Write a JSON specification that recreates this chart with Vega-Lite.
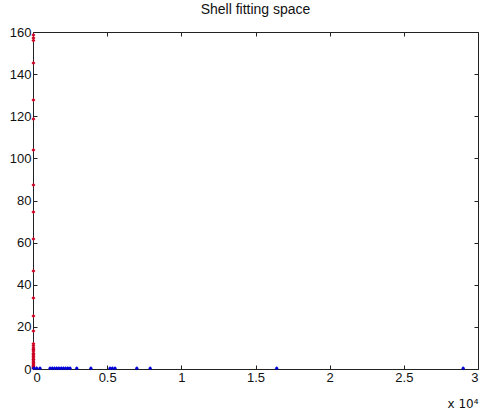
{
  "$schema": "https://vega.github.io/schema/vega-lite/v6.json",
  "width": 445,
  "height": 337,
  "autosize": {"type": "none"},
  "padding": {"left": 33, "top": 32, "right": 2, "bottom": 43},
  "background": "white",
  "title": {
    "text": "Shell fitting space",
    "font": "Liberation Sans",
    "fontSize": 14,
    "fontWeight": "normal",
    "color": "#111",
    "offset": 9
  },
  "config": {
    "view": {"stroke": "#222", "strokeWidth": 1},
    "axis": {
      "domain": false,
      "grid": false,
      "ticks": true,
      "tickColor": "#222",
      "tickSize": -4,
      "labelFont": "Liberation Sans",
      "labelFontSize": 13,
      "labelColor": "#111",
      "labelPadding": 6
    }
  },
  "datasets": {
    "pts": [
      {"x": 30, "y": 158.6, "series": "red"},
      {"x": 30, "y": 157.2, "series": "red"},
      {"x": 30, "y": 156.0, "series": "red"},
      {"x": 30, "y": 145.3, "series": "red"},
      {"x": 30, "y": 127.7, "series": "red"},
      {"x": 30, "y": 118.7, "series": "red"},
      {"x": 30, "y": 104.0, "series": "red"},
      {"x": 30, "y": 87.4, "series": "red"},
      {"x": 30, "y": 74.5, "series": "red"},
      {"x": 30, "y": 61.7, "series": "red"},
      {"x": 30, "y": 46.5, "series": "red"},
      {"x": 30, "y": 33.7, "series": "red"},
      {"x": 30, "y": 25.2, "series": "red"},
      {"x": 30, "y": 18.1, "series": "red"},
      {"x": 30, "y": 12.0, "series": "red"},
      {"x": 30, "y": 11.0, "series": "red"},
      {"x": 30, "y": 10.0, "series": "red"},
      {"x": 30, "y": 9.2, "series": "red"},
      {"x": 30, "y": 8.5, "series": "red"},
      {"x": 30, "y": 7.5, "series": "red"},
      {"x": 30, "y": 6.8, "series": "red"},
      {"x": 30, "y": 6.0, "series": "red"},
      {"x": 30, "y": 5.2, "series": "red"},
      {"x": 30, "y": 4.5, "series": "red"},
      {"x": 30, "y": 3.8, "series": "red"},
      {"x": 30, "y": 3.0, "series": "red"},
      {"x": 30, "y": 2.4, "series": "red"},
      {"x": 30, "y": 1.8, "series": "red"},
      {"x": 30, "y": 1.2, "series": "red"},
      {"x": 30, "y": 0.8, "series": "red"},
      {"x": 30, "y": 0.4, "series": "red"},
      {"x": 60, "y": 0.3, "series": "blue"},
      {"x": 250, "y": 0.3, "series": "blue"},
      {"x": 470, "y": 0.3, "series": "blue"},
      {"x": 1150, "y": 0.3, "series": "blue"},
      {"x": 1300, "y": 0.3, "series": "blue"},
      {"x": 1450, "y": 0.3, "series": "blue"},
      {"x": 1600, "y": 0.3, "series": "blue"},
      {"x": 1750, "y": 0.3, "series": "blue"},
      {"x": 1900, "y": 0.3, "series": "blue"},
      {"x": 2050, "y": 0.3, "series": "blue"},
      {"x": 2200, "y": 0.3, "series": "blue"},
      {"x": 2350, "y": 0.3, "series": "blue"},
      {"x": 2500, "y": 0.3, "series": "blue"},
      {"x": 2950, "y": 0.3, "series": "blue"},
      {"x": 3900, "y": 0.3, "series": "blue"},
      {"x": 5190, "y": 0.3, "series": "blue"},
      {"x": 5350, "y": 0.3, "series": "blue"},
      {"x": 5530, "y": 0.3, "series": "blue"},
      {"x": 7000, "y": 0.3, "series": "blue"},
      {"x": 7900, "y": 0.3, "series": "blue"},
      {"x": 16430, "y": 0.3, "series": "blue"},
      {"x": 29000, "y": 0.3, "series": "blue"}
    ]
  },
  "data": {"name": "pts"},
  "layer": [
    {
      "mark": {"type": "point", "shape": "diamond", "filled": true, "size": 16, "opacity": 1, "clip": false},
      "encoding": {
        "x": {
          "field": "x",
          "type": "quantitative",
          "scale": {"domain": [0, 30000], "nice": false, "zero": false},
          "axis": {
            "orient": "bottom",
            "values": [0, 5000, 10000, 15000, 20000, 25000, 30000],
            "labelExpr": "format(datum.value / 10000, '~g')",
            "title": "x 10⁴",
            "titleFont": "DejaVu Sans",
            "titleFontSize": 12,
            "titleFontWeight": "normal",
            "titleColor": "#111",
            "titleAnchor": "end",
            "titlePadding": 14
          }
        },
        "y": {
          "field": "y",
          "type": "quantitative",
          "scale": {"domain": [0, 160], "nice": false},
          "axis": {
            "orient": "left",
            "values": [0, 20, 40, 60, 80, 100, 120, 140, 160],
            "title": null
          }
        },
        "color": {
          "field": "series",
          "type": "nominal",
          "scale": {"domain": ["red", "blue"], "range": ["#cc0022", "#0000dd"]},
          "legend": null
        }
      }
    },
    {
      "mark": {"type": "point", "opacity": 0},
      "encoding": {
        "x": {
          "field": "x",
          "type": "quantitative",
          "scale": {"domain": [0, 30000], "nice": false, "zero": false},
          "axis": {"orient": "top", "values": [0, 5000, 10000, 15000, 20000, 25000, 30000], "labels": false, "title": null}
        },
        "y": {
          "field": "y",
          "type": "quantitative",
          "scale": {"domain": [0, 160], "nice": false},
          "axis": {"orient": "right", "values": [0, 20, 40, 60, 80, 100, 120, 140, 160], "labels": false, "title": null}
        }
      }
    }
  ],
  "resolve": {"axis": {"x": "independent", "y": "independent"}}
}
